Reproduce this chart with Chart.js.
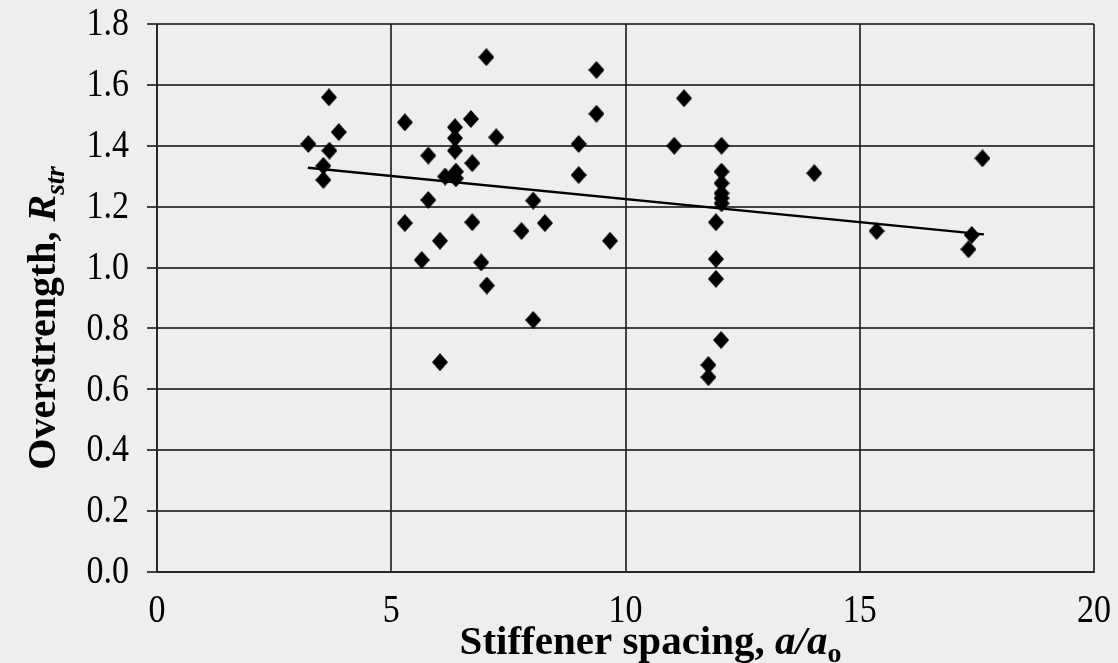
<!DOCTYPE html>
<html>
<head>
<meta charset="utf-8">
<script src="https://cdn.jsdelivr.net/npm/chart.js@4"></script>
<style>
  html, body { margin: 0; padding: 0; background: #eeeeee; }
  #wrap { width: 1118px; height: 663px; }
</style>
</head>
<body>
<div id="wrap"><canvas id="overstrengthChart" width="1118" height="663"></canvas></div>
<script>
// stiffener spacing a/a0 and measured overstrength R_str for each specimen
const spacing = [
  3.23, 3.55, 3.55, 3.67, 3.68, 3.88,
  5.29, 5.29, 5.65, 5.79, 5.79, 6.04, 6.04, 6.15,
  6.36, 6.36, 6.36, 6.38, 6.38, 6.70, 6.73, 6.73, 6.92,
  7.03, 7.04, 7.24, 7.78, 8.03, 8.03, 8.28,
  9.00, 9.00, 9.38, 9.38, 9.67,
  11.04, 11.25, 11.93, 11.93, 11.93, 12.04, 11.77, 11.77,
  12.05, 12.05, 12.05, 12.05, 12.05, 12.05,
  14.03, 15.36, 17.39, 17.32, 17.62
];
const overstrength = [
  1.406, 1.334, 1.288, 1.559, 1.384, 1.445,
  1.477, 1.146, 1.025, 1.368, 1.222, 1.088, 0.689, 1.299,
  1.461, 1.425, 1.384, 1.315, 1.293, 1.488, 1.343, 1.149, 1.017,
  1.691, 0.941, 1.428, 1.120, 1.220, 0.828, 1.146,
  1.406, 1.304, 1.649, 1.505, 1.088,
  1.400, 1.556, 1.149, 1.028, 0.963, 0.762, 0.680, 0.640,
  1.400, 1.315, 1.277, 1.244, 1.228, 1.211,
  1.310, 1.120, 1.107, 1.060, 1.359
];

// end points of the linear fit
const trendX = [3.22, 17.65];
const trendY = [1.328, 1.109];

const xTicks = [0, 5, 10, 15, 20];
const yTicks = [0, 0.2, 0.4, 0.6, 0.8, 1.0, 1.2, 1.4, 1.6, 1.8];

const serif = '"Liberation Serif", "Times New Roman", serif';
const gridColor = 'rgba(35, 35, 35, 0.85)';

// slightly tall diamond marker
const diamond = document.createElement('canvas');
diamond.width = 16;
diamond.height = 18;
(function () {
  const c = diamond.getContext('2d');
  c.fillStyle = '#000';
  c.beginPath();
  c.moveTo(8, 0);
  c.lineTo(16, 9);
  c.lineTo(8, 18);
  c.lineTo(0, 9);
  c.closePath();
  c.fill();
})();

// draws a line of text made of differently styled pieces, centred on cx
function drawRich(ctx, parts, cx, y) {
  let total = 0;
  parts.forEach(p => {
    ctx.font = p.font;
    p.w = ctx.measureText(p.text).width;
    total += p.w;
  });
  let x = cx - total / 2;
  ctx.textAlign = 'left';
  ctx.textBaseline = 'alphabetic';
  parts.forEach(p => {
    ctx.font = p.font;
    ctx.fillText(p.text, x, y + (p.dy || 0));
    x += p.w;
  });
}

// tick label, stretched a little vertically
function drawTick(ctx, text, x, y, align) {
  ctx.save();
  ctx.translate(x, y);
  ctx.scale(1, 1.15);
  ctx.textAlign = align;
  ctx.textBaseline = 'middle';
  ctx.font = '34px ' + serif;
  ctx.fillText(text, 0, 0);
  ctx.restore();
}

const axisText = {
  id: 'axisText',
  afterDraw(chart) {
    const ctx = chart.ctx;
    const area = chart.chartArea;
    const xs = chart.scales.x;
    const ys = chart.scales.y;
    ctx.save();
    ctx.fillStyle = '#000';

    xTicks.forEach(v => drawTick(ctx, String(v), xs.getPixelForValue(v), area.bottom + 40, 'center'));
    yTicks.forEach(v => drawTick(ctx, v.toFixed(1), area.left - 28, ys.getPixelForValue(v) + 1, 'right'));

    drawRich(ctx, [
      { text: 'Stiffener spacing, ', font: 'bold 41px ' + serif },
      { text: 'a/a', font: 'italic bold 41px ' + serif },
      { text: 'o', font: 'bold 28px ' + serif, dy: 8 }
    ], (area.left + area.right) / 2 + 25, 654);

    ctx.translate(55, (area.top + area.bottom) / 2 + 20);
    ctx.rotate(-Math.PI / 2);
    drawRich(ctx, [
      { text: 'Overstrength, ', font: 'bold 40px ' + serif },
      { text: 'R', font: 'italic bold 40px ' + serif },
      { text: 'str', font: 'italic bold 27px ' + serif, dy: 9 }
    ], 0, 0);
    ctx.restore();
  }
};

new Chart(document.getElementById('overstrengthChart'), {
  type: 'scatter',
  data: {
    datasets: [{
      label: 'Overstrength',
      data: spacing.map((x, i) => ({ x: x, y: overstrength[i] })),
      pointStyle: diamond,
      pointRadius: 8,
      showLine: false
    }, {
      label: 'Linear fit',
      type: 'line',
      data: trendX.map((x, i) => ({ x: x, y: trendY[i] })),
      borderColor: '#000',
      borderWidth: 2.5,
      pointRadius: 0,
      fill: false
    }]
  },
  options: {
    responsive: false,
    animation: false,
    devicePixelRatio: 1,
    layout: { padding: { top: 24, right: 24, left: 0, bottom: 0 } },
    plugins: {
      legend: { display: false },
      tooltip: { enabled: false }
    },
    scales: {
      x: {
        type: 'linear',
        min: 0,
        max: 20,
        afterBuildTicks: s => { s.ticks = xTicks.map(v => ({ value: v })); },
        afterFit: s => { s.height = 91; },
        ticks: { display: false },
        grid: { color: gridColor, lineWidth: 2, drawTicks: false },
        border: { color: gridColor, width: 2 }
      },
      y: {
        type: 'linear',
        min: 0,
        max: 1.8,
        afterBuildTicks: s => { s.ticks = yTicks.map(v => ({ value: v })); },
        afterFit: s => { s.width = 157; },
        ticks: { display: false },
        grid: { color: gridColor, lineWidth: 2, tickLength: 10, tickColor: gridColor },
        border: { color: gridColor, width: 2 }
      }
    }
  },
  plugins: [axisText]
});
</script>
</body>
</html>
